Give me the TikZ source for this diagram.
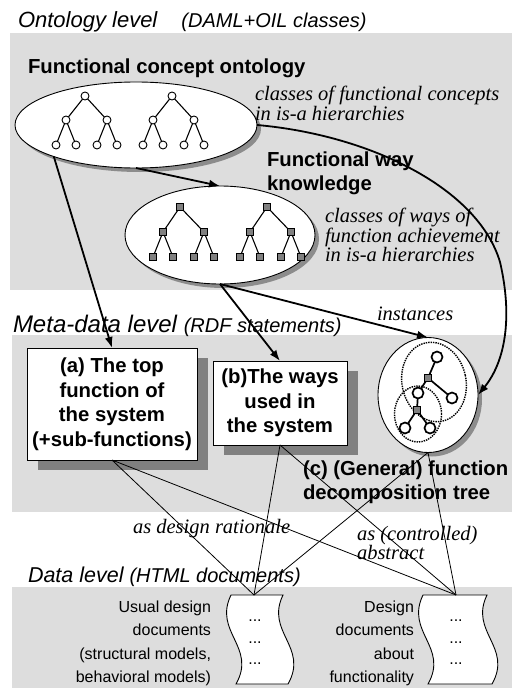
\documentclass[tikz,border=0pt]{standalone}
\usepackage{fontspec}
\setmainfont{Liberation Sans}
\newfontfamily\tms{Liberation Serif}
\usetikzlibrary{arrows.meta,shapes.geometric,shadows}
\definecolor{band}{RGB}{221,221,221}
\definecolor{shad}{RGB}{128,128,128}
\definecolor{eshad}{RGB}{140,140,140}
\definecolor{sq}{RGB}{128,128,128}
\newcommand{\myfs}[2]{\fontsize{#1}{#2}\selectfont}
\begin{document}
\begin{tikzpicture}[x=1pt,y=-1pt,
  every node/.style={inner sep=0pt, outer sep=0pt},
  lvl/.style={font=\itshape\myfs{22}{26}},
  ttl/.style={font=\bfseries\myfs{20.3}{24}, align=left},
  note/.style={font=\tms\itshape\myfs{20.5}{18}, align=left},
  ell/.style={ellipse, draw=black, line width=0.9pt, fill=white},
  eshadow/.style={drop shadow={shadow xshift=4pt, shadow yshift=-4pt, fill=eshad, opacity=1}},
  bshadow/.style={drop shadow={shadow xshift=11pt, shadow yshift=-10pt, fill=shad, opacity=1}},
  metabox/.style={draw=black, line width=0.9pt, fill=white, font=\bfseries\myfs{20.3}{24.5}, align=center},
  dotell/.style={ellipse, draw=black, densely dotted, line width=1.4pt},
  big/.style={line width=1.8pt, -{Latex[length=11pt,width=8pt]}},
  conn/.style={line width=0.8pt},
  tline/.style={line width=1.1pt},
  doclbl/.style={font=\myfs{16}{23.6}, align=right},
  dots/.style={font=\myfs{16}{21.5}, align=center},
]
\useasboundingbox (0,0) rectangle (512,690);

% bands
\fill[band] (10,33) rectangle (512,290);
\fill[band] (12,335) rectangle (512,512);
\fill[band] (12,587) rectangle (512,688);

% level titles
\node[lvl, anchor=base west] (tOnt) at (18,28) {Ontology level\hspace{24pt}{\myfs{20}{24}(DAML+OIL classes)}};
\node[lvl, font=\itshape\myfs{24}{28}, anchor=base west] (tMeta) at (13,332) {Meta-data level {\myfs{20}{24}(RDF statements)}};
\node[lvl, font=\itshape\myfs{21.5}{26}, anchor=base west] (tData) at (28,582) {Data level {\myfs{20}{24}(HTML documents)}};

% Functional concept ontology
\node[ttl, anchor=base west] (tFco) at (28,74) {Functional concept ontology};
\node[ell, eshadow, minimum width=242pt, minimum height=86pt] (fco) at (136,125) {};
\foreach \x in {85,172}{
  \draw[tline] (\x,96) -- (\x-19,120) (\x,96) -- (\x+22,120)
     (\x-19,120) -- (\x-29,145) (\x-19,120) -- (\x-9,145)
     (\x+22,120) -- (\x+12,145) (\x+22,120) -- (\x+32,145);
  \foreach \p in {(\x,96),(\x-19,120),(\x+22,120),(\x-29,145),(\x-9,145),(\x+12,145),(\x+32,145)}
     \filldraw[fill=white, draw=black, line width=0.9pt] \p circle[radius=4pt];
}
\node[note, anchor=north west] (nFco) at (255,86) {classes of functional concepts\\in is-a hierarchies};

% Functional way knowledge
\node[ttl, anchor=north west] (tFwk) at (267,152) {Functional way\\knowledge};
\node[ell, eshadow, minimum width=190pt, minimum height=98pt] (fwk) at (220,235) {};
\foreach \x in {180,267}{
  \draw[tline] (\x,207) -- (\x-17,232) (\x,207) -- (\x+24,232)
     (\x-17,232) -- (\x-27,257) (\x-17,232) -- (\x-7,257)
     (\x+24,232) -- (\x+14,257) (\x+24,232) -- (\x+34,257);
  \foreach \p in {(\x,207),(\x-17,232),(\x+24,232),(\x-27,257),(\x-7,257),(\x+14,257),(\x+34,257)}
     \filldraw[fill=sq, draw=black, line width=0.7pt] \p ++(-3.3,-3.3) rectangle ++(6.6,6.6);
}
\node[note, anchor=north west] (nFwk) at (325,208) {classes of ways of\\function achievement\\in is-a hierarchies};

% meta-data boxes
\node[metabox, bshadow, minimum width=170pt, minimum height=112pt] (ma) at (112,404) {(a) The top\\function of\\the system\\(+sub-functions)};
\node[metabox, bshadow, minimum width=134pt, minimum height=84pt] (mb) at (280,403) {(b)The ways\\used in\\the system};

% (c) decomposition tree
\node[ell, eshadow, minimum width=100pt, minimum height=115pt] (mc) at (428,395) {};
\node[dotell, minimum width=64pt, minimum height=80pt, rotate=12] (ia) at (434,382) {};
\node[dotell, minimum width=47pt, minimum height=56pt] (ib) at (418,414) {};
\draw[line width=1.7pt] (428,378) -- (437,357) (428,378) -- (452,398) (428,378) -- (418,393) -- (417,410)
   (417,410) -- (405,428) (417,410) -- (430,428);
\foreach \p in {(437,357),(452,398),(418,393),(405,428),(430,428)}
   \filldraw[fill=white, draw=black, line width=1.7pt] \p circle[radius=5.5pt];
\foreach \p in {(428,378),(417,410)}
   \filldraw[fill=sq, draw=black, line width=0.6pt] \p ++(-3.5,-3.5) rectangle ++(7,7);
\node[ttl, anchor=north west] (tC) at (303,461) {(c) (General) function\\decomposition tree};

% thick arrows
\draw[big] (fco.south) -- (fwk.north);
\draw[big] (fco.201) -- (ma.north);
\draw[big] (fwk.south) -- (mb.north);
\draw[big] (fwk.south) -- (mc.north);
\node[note, anchor=base west] (tInst) at (377,320) {instances};
\draw[big] (fco.east) .. controls (370,135) and (478,188) .. (500,262)
   .. controls (513,318) and (505,362) .. (mc.east);

% data documents
\coordinate (d1) at (254,595);
\coordinate (d2) at (456,595);
\draw[fill=white, line width=0.9pt] (231,595) -- (283,595)
   .. controls (265,632) and (309,647) .. (288,684) -- (236,684)
   .. controls (257,647) and (213,632) .. (231,595) -- cycle;
\draw[fill=white, line width=0.9pt] (423,595) -- (487,595)
   .. controls (469,632) and (513,647) .. (492,684) -- (428,684)
   .. controls (449,647) and (405,632) .. (423,595) -- cycle;
\node[dots, anchor=north] (dots1) at (255,620) {...\\...\\...};
\node[dots, anchor=north] (dots2) at (456,620) {...\\...\\...};
\node[doclbl, anchor=north east] (tU) at (211,600.5) {Usual design\\documents\\(structural models,\\behavioral models)};
\node[doclbl, anchor=north east] (tD) at (414,600.5) {Design\\documents\\about\\functionality};

% thin connectors
\draw[conn] (ma.south) -- (d1) (ma.south) -- (d2);
\draw[conn] (mb.south) -- (d1) (mb.south) -- (d2);
\draw[conn] (mc.south) -- (d1) (mc.south) -- (d2);
\node[note, anchor=base west] (tDR) at (133,533) {as design rationale};
\node[note, anchor=north west] (tAbs) at (357,526) {as (controlled)\\abstract};
\end{tikzpicture}
\end{document}
